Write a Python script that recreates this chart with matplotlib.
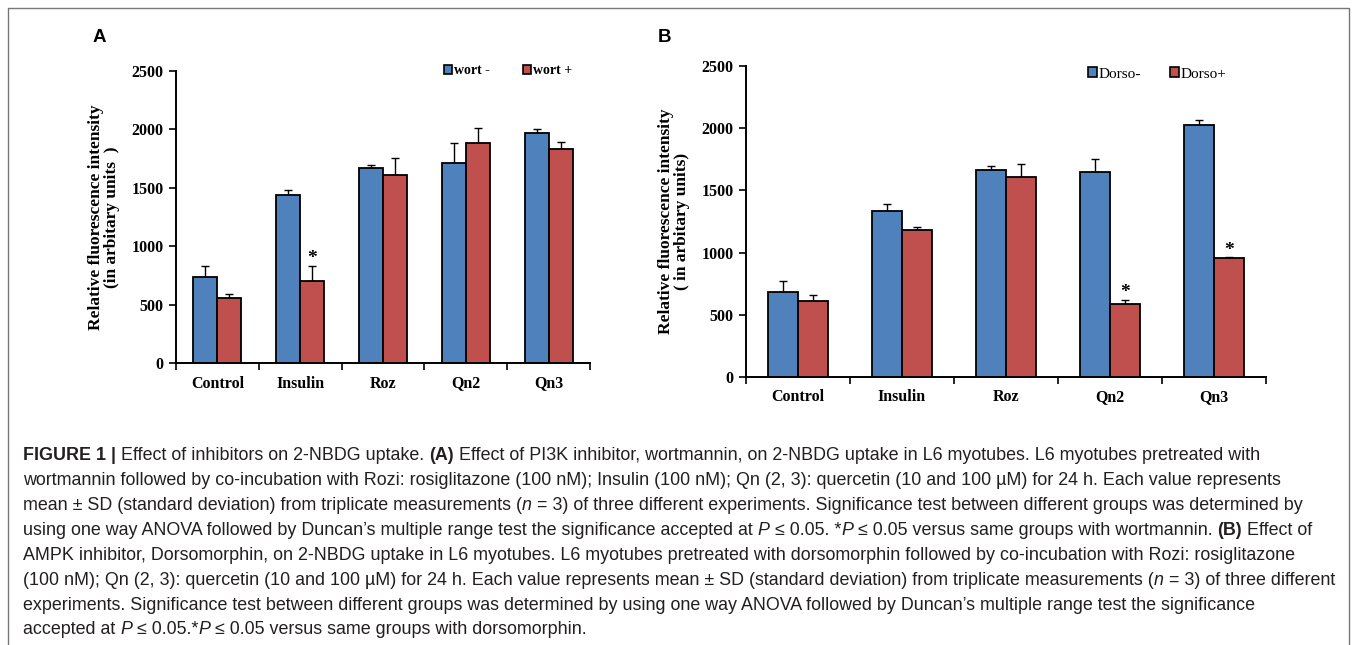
import numpy as np
import matplotlib
matplotlib.use("Agg")
import matplotlib.pyplot as plt
from matplotlib.patches import Patch

# --- data ---
groups = ["Control", "Insulin", "Roz", "Qn2", "Qn3"]

wort_minus = [740, 1435, 1667, 1710, 1965]
wort_minus_sd = [92, 50, 30, 170, 37]
wort_plus = [560, 705, 1610, 1886, 1832]
wort_plus_sd = [35, 128, 145, 125, 57]
wort_star = [False, True, False, False, False]

dorso_minus = [684, 1338, 1660, 1644, 2025]
dorso_minus_sd = [86, 54, 35, 105, 37]
dorso_plus = [612, 1180, 1609, 590, 957]
dorso_plus_sd = [50, 27, 107, 32, 4]
dorso_star = [False, False, False, True, True]

yticks = [0, 500, 1000, 1500, 2000, 2500]

BLUE = "#4F81BD"
RED = "#C0504D"
SERIF = "Liberation Serif"
W, H = 1357, 645


def fig_rect(x0, y0, x1, y1):
    # pixel box (top-left origin) -> figure fraction rect
    return [x0 / W, 1 - y1 / H, (x1 - x0) / W, (y1 - y0) / H]


def bar_panel(ax, minus, minus_sd, plus, plus_sd, stars, ylabel):
    x = np.arange(len(groups))
    bw = 0.29
    kw = dict(width=bw, edgecolor="black", linewidth=1.3, zorder=2)
    ax.bar(x - bw / 2, minus, color=BLUE, **kw)
    ax.bar(x + bw / 2, plus, color=RED, **kw)
    ekw = dict(fmt="none", ecolor="black", elinewidth=1.0, capsize=3,
               capthick=1.0, zorder=1)
    ax.errorbar(x - bw / 2, minus, yerr=[np.zeros(len(x)), minus_sd], **ekw)
    ax.errorbar(x + bw / 2, plus, yerr=[np.zeros(len(x)), plus_sd], **ekw)
    for i, s in enumerate(stars):
        if s:
            ax.text(x[i] + bw / 2, plus[i] + plus_sd[i] - 15, "*",
                    ha="center", va="bottom", fontsize=14,
                    fontweight="bold", family=SERIF)

    ax.set_xlim(-0.5, len(groups) - 0.5)
    ax.set_ylim(0, 2500)
    ax.set_yticks(yticks)
    ax.set_yticklabels([str(v) for v in yticks], fontsize=11.5,
                       fontweight="bold", family=SERIF)
    ax.set_xticks(x)
    ax.set_xticklabels(groups, fontsize=11.5, fontweight="bold", family=SERIF)
    ax.set_xticks(np.arange(len(groups) + 1) - 0.5, minor=True)
    ax.tick_params(axis="x", which="major", length=0, pad=9)
    ax.tick_params(axis="x", which="minor", length=5, width=1.2, direction="out")
    ax.tick_params(axis="y", length=5, width=1.2, direction="out", pad=4)
    for side in ["top", "right"]:
        ax.spines[side].set_visible(False)
    for side in ["left", "bottom"]:
        ax.spines[side].set_linewidth(1.4)
    ax.set_ylabel(ylabel, fontsize=12.5, fontweight="bold", family=SERIF,
                  labelpad=8, linespacing=1.05)


fig = plt.figure(figsize=(W / 100, H / 100), dpi=100)

# outer frame of the figure
fig.add_artist(plt.Line2D([8 / W, 8 / W, 1349 / W, 1349 / W],
                          [0, 1 - 8 / H, 1 - 8 / H, 0],
                          color="#777777", linewidth=1.0))

axA = fig.add_axes(fig_rect(176, 71, 590, 363))
bar_panel(axA, wort_minus, wort_minus_sd, wort_plus, wort_plus_sd, wort_star,
          "Relative fluorescence intensity\n(in arbitary units  )")
axB = fig.add_axes(fig_rect(746, 66, 1266, 377))
bar_panel(axB, dorso_minus, dorso_minus_sd, dorso_plus, dorso_plus_sd,
          dorso_star, "Relative fluorescence intensity\n( in arbitary units)")

fig.text(93 / W, 1 - 37 / H, "A", fontsize=13.5, fontweight="bold",
         family="Liberation Sans", va="center")
fig.text(658 / W, 1 - 37 / H, "B", fontsize=13.5, fontweight="bold",
         family="Liberation Sans", va="center")

# legends
lkw = dict(ncol=2, frameon=False, borderpad=0, handlelength=0.6,
           handleheight=0.6, handletextpad=0.1, loc="center left")
hA = [Patch(facecolor=BLUE, edgecolor="black", linewidth=1.2, label="wort -"),
      Patch(facecolor=RED, edgecolor="black", linewidth=1.2, label="wort +")]
fig.legend(handles=hA, bbox_to_anchor=(437 / W, 1 - 71 / H), columnspacing=2.4,
           prop=dict(family=SERIF, weight="bold", size=10), **lkw)
hB = [Patch(facecolor=BLUE, edgecolor="black", linewidth=1.2, label="Dorso-"),
      Patch(facecolor=RED, edgecolor="black", linewidth=1.2, label="Dorso+")]
fig.legend(handles=hB, bbox_to_anchor=(1080 / W, 1 - 74 / H), columnspacing=1.9,
           prop=dict(family=SERIF, size=11), **lkw)

# caption
caption = [
    [("FIGURE 1 |", "b"), (" Effect of inhibitors on 2-NBDG uptake. ", ""), ("(A)", "b"),
     (" Effect of PI3K inhibitor, wortmannin, on 2-NBDG uptake in L6 myotubes. L6 myotubes pretreated with", "")],
    [("wortmannin followed by co-incubation with Rozi: rosiglitazone (100 nM); Insulin (100 nM); "
      "Qn (2, 3): quercetin (10 and 100 \u00b5M) for 24 h. Each value represents", "")],
    [("mean \u00b1 SD (standard deviation) from triplicate measurements (", ""), ("n", "i"),
     (" = 3) of three different experiments. Significance test between different groups was determined by", "")],
    [("using one way ANOVA followed by Duncan\u2019s multiple range test the significance accepted at ", ""),
     ("P", "i"), (" \u2264 0.05. *", ""), ("P", "i"), (" \u2264 0.05 versus same groups with wortmannin. ", ""),
     ("(B)", "b"), (" Effect of", "")],
    [("AMPK inhibitor, Dorsomorphin, on 2-NBDG uptake in L6 myotubes. L6 myotubes pretreated with "
      "dorsomorphin followed by co-incubation with Rozi: rosiglitazone", "")],
    [("(100 nM); Qn (2, 3): quercetin (10 and 100 \u00b5M) for 24 h. Each value represents mean \u00b1 SD "
      "(standard deviation) from triplicate measurements (", ""), ("n", "i"), (" = 3) of three different", "")],
    [("experiments. Significance test between different groups was determined by using one way ANOVA "
      "followed by Duncan\u2019s multiple range test the significance", "")],
    [("accepted at ", ""), ("P", "i"), (" \u2264 0.05.*", ""), ("P", "i"),
     (" \u2264 0.05 versus same groups with dorsomorphin.", "")],
]

renderer = fig.canvas.get_renderer()
cap_size = 12.9
cap_color = "#231f20"
line_y = np.linspace(456, 630, len(caption))
for yy, segs in zip(line_y, caption):
    xx = 23
    for txt, st in segs:
        t = fig.text(xx / W, 1 - yy / H, txt, fontsize=cap_size, color=cap_color,
                     family="Liberation Sans", va="center", ha="left",
                     fontweight="bold" if st == "b" else "normal",
                     fontstyle="italic" if st == "i" else "normal")
        xx += t.get_window_extent(renderer).width

fig.savefig("out.png", dpi=100)
